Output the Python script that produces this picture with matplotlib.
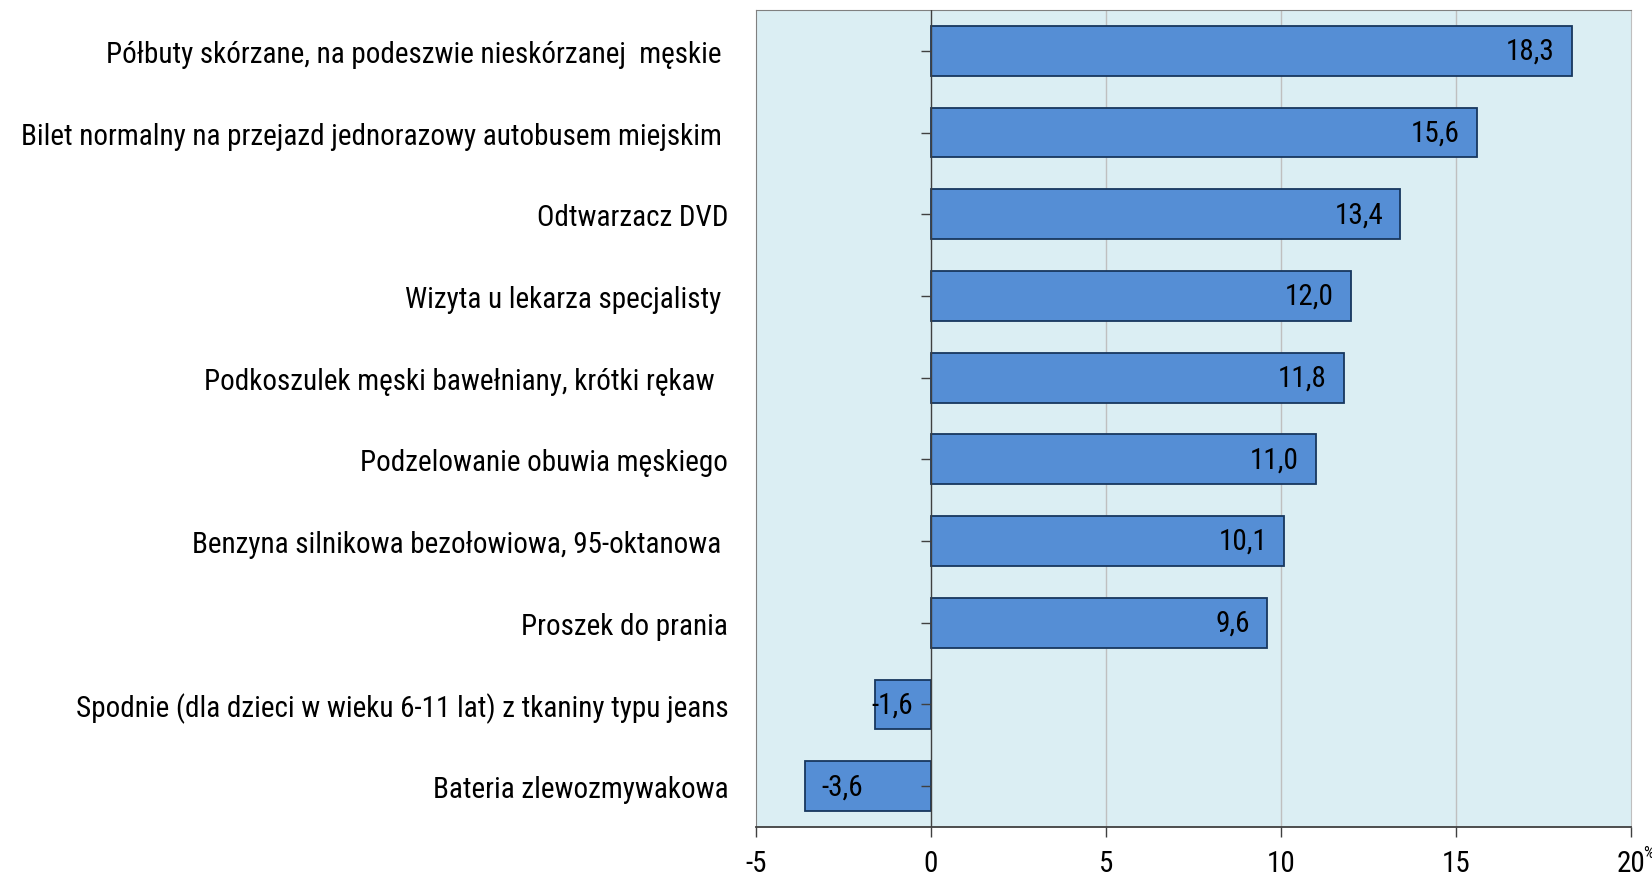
import numpy as np
import matplotlib
matplotlib.use('Agg')
import matplotlib.pyplot as plt

plt.rcParams['font.family'] = ['Roboto Condensed', 'Liberation Sans', 'DejaVu Sans']

categories = [
    'Półbuty skórzane, na podeszwie nieskórzanej  męskie ',
    'Bilet normalny na przejazd jednorazowy autobusem miejskim ',
    'Odtwarzacz DVD',
    'Wizyta u lekarza specjalisty ',
    'Podkoszulek męski bawełniany, krótki rękaw  ',
    'Podzelowanie obuwia męskiego',
    'Benzyna silnikowa bezołowiowa, 95-oktanowa ',
    'Proszek do prania',
    'Spodnie (dla dzieci w wieku 6-11 lat) z tkaniny typu jeans',
    'Bateria zlewozmywakowa',
]
values = [18.3, 15.6, 13.4, 12.0, 11.8, 11.0, 10.1, 9.6, -1.6, -3.6]
labels = ['18,3', '15,6', '13,4', '12,0', '11,8', '11,0', '10,1', '9,6', '-1,6', '-3,6']
xticks = [-5, 0, 5, 10, 15, 20]

fig = plt.figure(figsize=(16.52, 8.79), dpi=100)
ax = fig.add_axes([0.4576, 0.058, 0.5297, 0.9295])
ax.set_facecolor('#DBEEF3')

y = np.arange(len(categories))
ax.barh(y, values, height=0.61, color='#558ED5', edgecolor='#17375E', linewidth=1.3, zorder=3)

ax.set_xlim(-5, 20)
ax.set_ylim(len(categories) - 0.5, -0.5)
ax.set_xticks(xticks)
ax.set_xticklabels([str(t) for t in xticks], fontsize=21)
ax.set_yticks(y)
ax.set_yticklabels(categories, fontsize=21)
ax.tick_params(axis='y', length=0, pad=20)
ax.tick_params(axis='x', length=7, width=1, color='#404040', pad=9)

for t in [5, 10, 15]:
    ax.axvline(t, color='#BFBFBF', linewidth=1, zorder=1)
ax.axvline(0, color='#404040', linewidth=1, zorder=4)
ax.plot(np.zeros(len(y)), y, linestyle='none', marker=0, markersize=7,
        color='#404040', markeredgewidth=1, zorder=5)

for spine in ['top', 'left']:
    ax.spines[spine].set_color('#808080')
ax.spines['right'].set_color('#BFBFBF')
ax.spines['bottom'].set_color('#404040')
ax.spines['bottom'].set_linewidth(1.3)

for yi, v, lab in zip(y, values, labels):
    if v >= 0:
        ax.annotate(lab, (v, yi), xytext=(-17, 0), textcoords='offset pixels',
                    ha='right', va='center', fontsize=21, zorder=6)
    else:
        width_px = abs(v) * 35
        off = 16 if width_px > 80 else -4
        ax.annotate(lab, (v, yi), xytext=(off, 0), textcoords='offset pixels',
                    ha='left', va='center', fontsize=21, zorder=6)

ax.annotate('%', (1.0, 0.0), xycoords='axes fraction', xytext=(12, -18),
            textcoords='offset pixels', fontsize=12, ha='left', va='top')

fig.savefig('out.png', dpi=100)
